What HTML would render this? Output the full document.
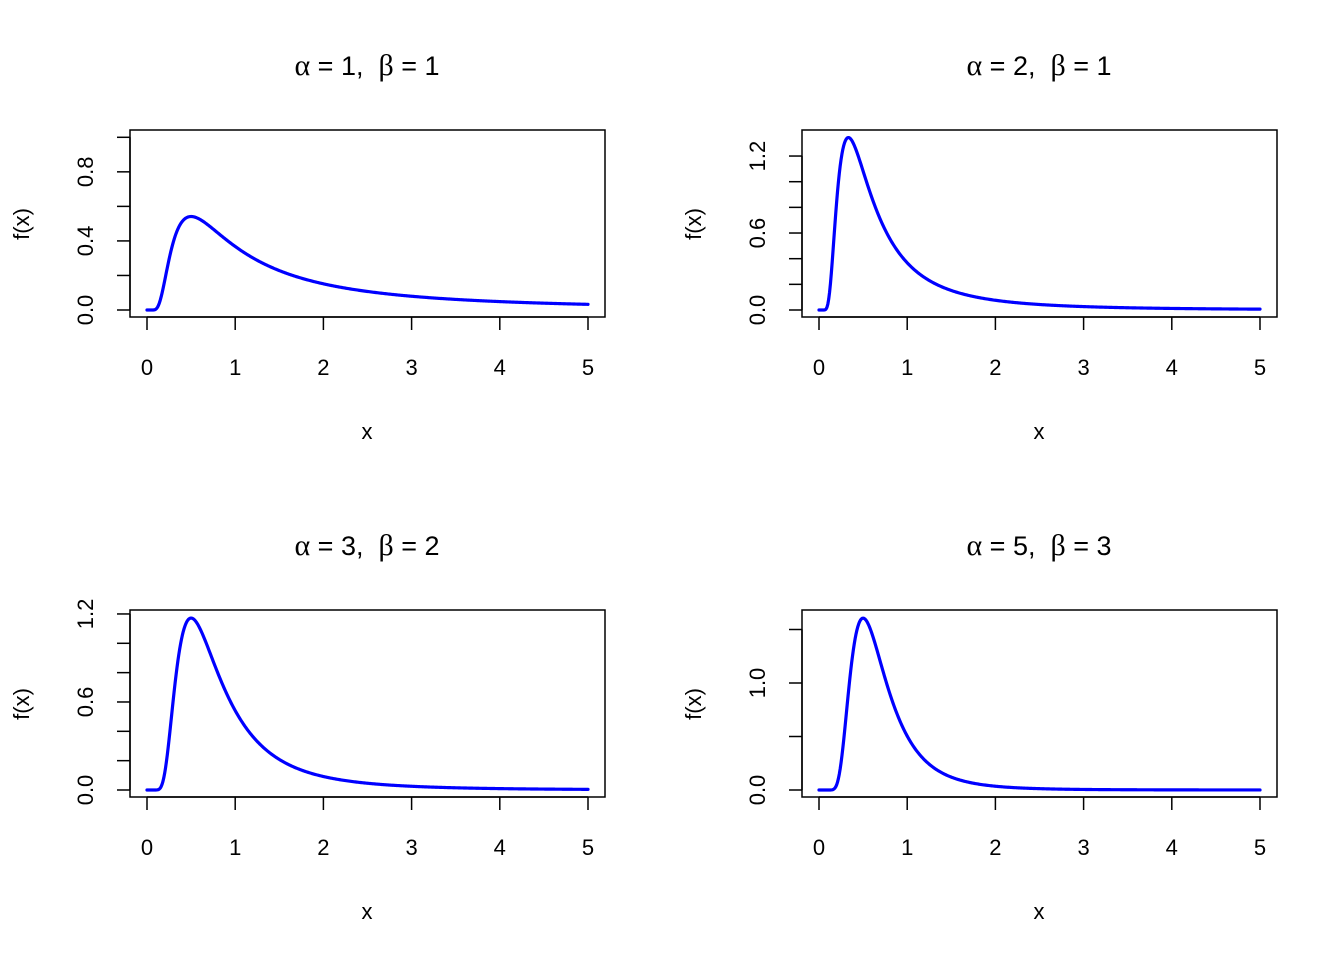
<!DOCTYPE html>
<html><head><meta charset="utf-8"><style>
html,body{margin:0;padding:0;background:#fff;}
svg text{font-family:"Liberation Sans",Arial,sans-serif;fill:#000;white-space:pre;}
</style></head><body>
<svg id="s" width="1344" height="960" xmlns="http://www.w3.org/2000/svg"></svg>
<script>
const s=document.getElementById('s');
let h='';
const panels=[
 {a:1,b:1,g:1,ox:0,oy:0,y0:310,ppu:172.7,ticks:[0,0.2,0.4,0.6,0.8,1.0],labs:[0,0.4,0.8]},
 {a:2,b:1,g:1,ox:672,oy:0,y0:310,ppu:128.3,ticks:[0,0.2,0.4,0.6,0.8,1.0,1.2],labs:[0,0.6,1.2]},
 {a:3,b:2,g:2,ox:0,oy:480,y0:310,ppu:146.7,ticks:[0,0.2,0.4,0.6,0.8,1.0,1.2],labs:[0,0.6,1.2]},
 {a:5,b:3,g:24,ox:672,oy:480,y0:310,ppu:107,ticks:[0,0.5,1.0,1.5],labs:[0,1.0]}
];
for(const p of panels){
 const X=v=>p.ox+147+v*88.2, Y=v=>p.oy+p.y0-v*p.ppu;
 h+=`<rect x="${p.ox+130}" y="${p.oy+130}" width="475" height="187" fill="none" stroke="#000" stroke-width="1.5"/>`;
 h+=`<line x1="${X(0)}" y1="${p.oy+317}" x2="${X(5)}" y2="${p.oy+317}" stroke="#000" stroke-width="1.5"/>`;
 for(let i=0;i<=5;i++){h+=`<line x1="${X(i)}" y1="${p.oy+317}" x2="${X(i)}" y2="${p.oy+330}" stroke="#000" stroke-width="1.5"/>`;
  h+=`<text x="${X(i)}" y="${p.oy+375}" font-size="22" text-anchor="middle">${i}</text>`;}
 h+=`<text x="${p.ox+367}" y="${p.oy+439}" font-size="22" text-anchor="middle">x</text>`;
 const t=p.ticks;
 h+=`<line x1="${p.ox+130}" y1="${Y(t[0])}" x2="${p.ox+130}" y2="${Y(t[t.length-1])}" stroke="#000" stroke-width="1.5"/>`;
 for(const v of t){h+=`<line x1="${p.ox+117}" y1="${Y(v)}" x2="${p.ox+130}" y2="${Y(v)}" stroke="#000" stroke-width="1.5"/>`;}
 for(const v of p.labs){const yy=Y(v);h+=`<text transform="translate(${p.ox+93},${yy}) rotate(-90)" font-size="22" text-anchor="middle">${v.toFixed(1)}</text>`;}
 h+=`<text transform="translate(${p.ox+29},${p.oy+224}) rotate(-90)" font-size="22" text-anchor="middle">f(x)</text>`;
 h+=`<text x="${p.ox+367}" y="${p.oy+75}" font-size="27" text-anchor="middle"><tspan font-family="Liberation Serif,serif" font-size="30">α</tspan> = ${p.a},  <tspan font-family="Liberation Serif,serif" font-size="30">β</tspan> = ${p.b}</text>`;
 let d='';
 for(let i=0;i<=500;i++){const x=i/100;let f=0;if(x>0)f=Math.pow(p.b,p.a)/p.g*Math.pow(x,-p.a-1)*Math.exp(-p.b/x);
  d+=(i?'L':'M')+X(x).toFixed(2)+','+Y(f).toFixed(2);}
 h+=`<path d="${d}" fill="none" stroke="#0000ff" stroke-width="3.2" stroke-linejoin="round" stroke-linecap="round"/>`;
}
s.innerHTML=h;
</script>
</body></html>
